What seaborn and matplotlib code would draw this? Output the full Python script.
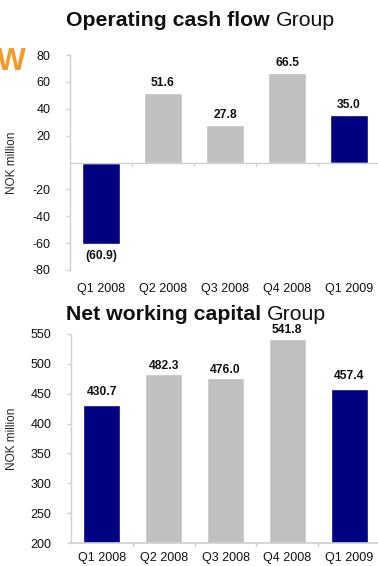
import matplotlib
matplotlib.use("Agg")
import matplotlib.pyplot as plt
import seaborn as sns
import pandas as pd

quarters = ["Q1 2008", "Q2 2008", "Q3 2008", "Q4 2008", "Q1 2009"]
cash_flow = [-60.9, 51.6, 27.8, 66.5, 35.0]
cash_labels = ["(60.9)", "51.6", "27.8", "66.5", "35.0"]
nwc = [430.7, 482.3, 476.0, 541.8, 457.4]
nwc_labels = ["430.7", "482.3", "476.0", "541.8", "457.4"]
highlight = [True, False, False, False, True]

sns.set_theme(style="white")
plt.rcParams['font.family'] = ['Liberation Sans', 'DejaVu Sans']
plt.rcParams['axes.unicode_minus'] = False

NAVY = "#000080"
GREY = "#C0C0C0"
AXC = "#D0D0D0"
TXT = "#111111"
palette = [NAVY if h else GREY for h in highlight]

W, H = 378, 566
fig = plt.figure(figsize=(W / 100, H / 100), dpi=100)

def px_axes(left, top, right, bottom):
    return fig.add_axes([left / W, 1 - bottom / H, (right - left) / W, (bottom - top) / H])

def style_axes(ax, ticks, ylim, xpad, left_px):
    ax.set_ylim(*ylim)
    ax.set_yticks(ticks)
    ax.set_xlim(-0.5, 4.5)
    for s in ["top", "right"]:
        ax.spines[s].set_visible(False)
    ax.spines["left"].set_color(AXC)
    ax.spines["left"].set_linewidth(1.0)
    ax.tick_params(axis="y", length=3, width=1, color=AXC, labelsize=9, pad=11, left=True)
    ax.tick_params(axis="x", length=0, labelsize=9, pad=xpad)
    ax.set_xlabel("")
    ax.set_ylabel("NOK million", fontsize=8.5)
    bb = ax.get_position()
    ax.yaxis.set_label_coords((18 - left_px) / (bb.width * W), 0.5)
    for t in ax.get_yticklabels() + ax.get_xticklabels():
        t.set_color(TXT)

# ---- top chart
ax1 = px_axes(70, 55, 380, 270)
df1 = pd.DataFrame({"q": quarters, "v": cash_flow})
sns.barplot(data=df1, x="q", y="v", hue="q", palette=palette, legend=False,
            width=0.6, saturation=1, ax=ax1)
ax1.set_xticks(range(5))
ax1.set_xticklabels(quarters)
style_axes(ax1, [-80, -60, -40, -20, 20, 40, 60, 80], (-80, 80), 9.5, 70)
ax1.spines["bottom"].set_visible(False)
ax1.axhline(0, color=AXC, lw=1.0)
for b in [0.5, 1.5, 2.5, 3.5]:
    ax1.plot([b, b], [0, -2.5], color=AXC, lw=1.0, clip_on=False)
for i, (v, lab) in enumerate(zip(cash_flow, cash_labels)):
    if v >= 0:
        ax1.annotate(lab, (i, v), xytext=(0, 3.3), textcoords="offset points",
                     ha="center", va="bottom", fontsize=8.7, fontweight="bold", color=TXT)
    else:
        ax1.annotate(lab, (i, v), xytext=(0, -4), textcoords="offset points",
                     ha="center", va="top", fontsize=8.7, fontweight="bold", color=TXT)

# ---- bottom chart
ax2 = px_axes(71, 334, 380, 543)
df2 = pd.DataFrame({"q": quarters, "v": nwc})
sns.barplot(data=df2, x="q", y="v", hue="q", palette=palette, legend=False,
            width=0.6, saturation=1, ax=ax2)
ax2.set_xticks(range(5))
ax2.set_xticklabels(quarters)
style_axes(ax2, [200, 250, 300, 350, 400, 450, 500, 550], (200, 550), 6.5, 71)
ax2.spines["bottom"].set_color(AXC)
for b in [0.5, 1.5, 2.5, 3.5]:
    ax2.plot([b, b], [200, 195], color=AXC, lw=1.0, clip_on=False)
for i, (v, lab) in enumerate(zip(nwc, nwc_labels)):
    off = 5.0 if highlight[i] else 1.8
    ax2.annotate(lab, (i, v), xytext=(0, off), textcoords="offset points",
                 ha="center", va="bottom", fontsize=8.7, fontweight="bold", color=TXT,
                 annotation_clip=False)

# ---- titles
fig.canvas.draw()
renderer = fig.canvas.get_renderer()

def two_part_title(x, y, bold, normal):
    t = fig.text(x / W, 1 - y / H, bold + " ", fontsize=15.3, fontweight="bold",
                 va="baseline", ha="left", color=TXT)
    bb = t.get_window_extent(renderer)
    fig.text(bb.x1 / W, 1 - y / H, normal, fontsize=15.3, va="baseline", ha="left", color=TXT)

two_part_title(66, 26, "Operating cash flow", "Group")
two_part_title(66, 320, "Net working capital", "Group")

fig.text(26 / W, 1 - 70 / H, "W", fontsize=22, fontweight="bold", color="#F39A2B",
         ha="right", va="baseline")

fig.savefig("out.png", dpi=100)
